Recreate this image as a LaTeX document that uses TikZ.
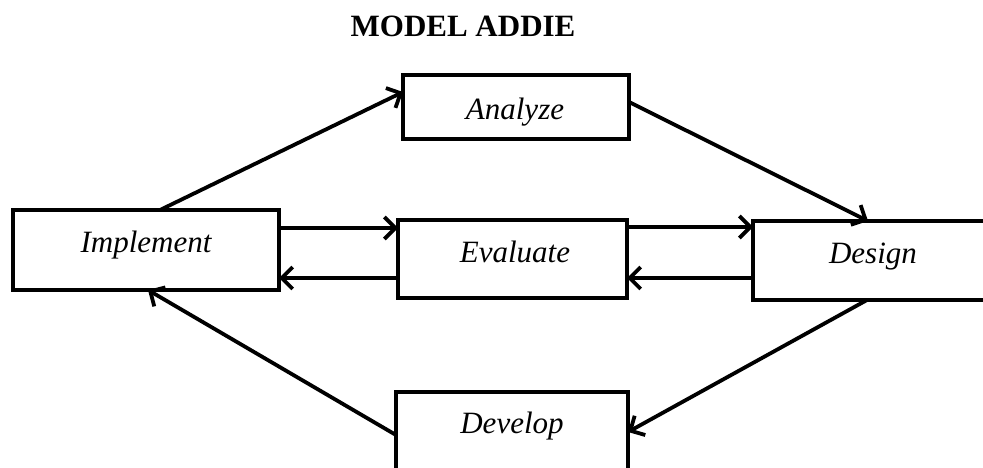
\documentclass[tikz,border=0pt]{standalone}
\usepackage{fontspec}
\setmainfont{Liberation Serif}
\usetikzlibrary{arrows.meta,calc}
\begin{document}
\begin{tikzpicture}[x=1pt,y=-1pt,
  box/.style={draw=black,line width=4.5pt,rectangle,inner sep=0pt,outer sep=0pt},
  lbl/.style={font=\fontsize{31}{31}\selectfont\itshape,anchor=base,inner sep=0pt},
  arr/.style={line width=3.8pt,-{Straight Barb[length=11pt,width=22pt,line width=3.8pt]}}]
\useasboundingbox (0,0) rectangle (983,468);
\clip (0,0) rectangle (983,468);
\fill[white] (0,0) rectangle (983,468);
\node[font=\fontsize{31}{31}\selectfont\bfseries,anchor=base,inner sep=0pt] (title) at (463,37) {MODEL ADDIE};
\node[box,minimum width=266pt,minimum height=80pt] (impl) at (146,250) {};
\node[box,minimum width=226pt,minimum height=64pt] (anal) at (516,107) {};
\node[box,minimum width=229pt,minimum height=78pt] (eval) at (512.5,259) {};
\node[box,minimum width=242pt,minimum height=79pt] (desg) at (874,260.5) {};
\node[box,minimum width=232pt,minimum height=88pt] (devl) at (512,436) {};
\node[lbl] (timpl) at (146,252) {Implement};
\node[lbl] (tanal) at (515,120) {Analyze};
\node[lbl] (teval) at (515,262) {Evaluate};
\node[lbl] (tdesg) at (873,263) {Design};
\node[lbl] (tdevl) at (512,433) {Develop};
\path ([yshift=-18pt]impl.north east) coordinate (a1);
\path ([yshift=20pt]eval.south west) coordinate (a2);
\path ([yshift=-7pt]eval.north east) coordinate (a3);
\path ([yshift=22pt]desg.south west) coordinate (a4);
\draw[arr] ([xshift=147pt]impl.north west) -- ([yshift=-17pt]anal.north west);
\draw[arr] ([yshift=-27pt]anal.north east) -- ([xshift=115pt]desg.north west);
\draw[arr] (a1) -- (a1 -| eval.west);
\draw[arr] (a2) -- (a2 -| impl.east);
\draw[arr] (a3) -- (a3 -| desg.west);
\draw[arr] (a4) -- (a4 -| eval.east);
\draw[arr] ([xshift=114pt]desg.south west) -- ([yshift=-40pt]devl.north east);
\draw[arr] ([yshift=-43pt]devl.north west) -- ([xshift=135pt]impl.south west);
\end{tikzpicture}
\end{document}
